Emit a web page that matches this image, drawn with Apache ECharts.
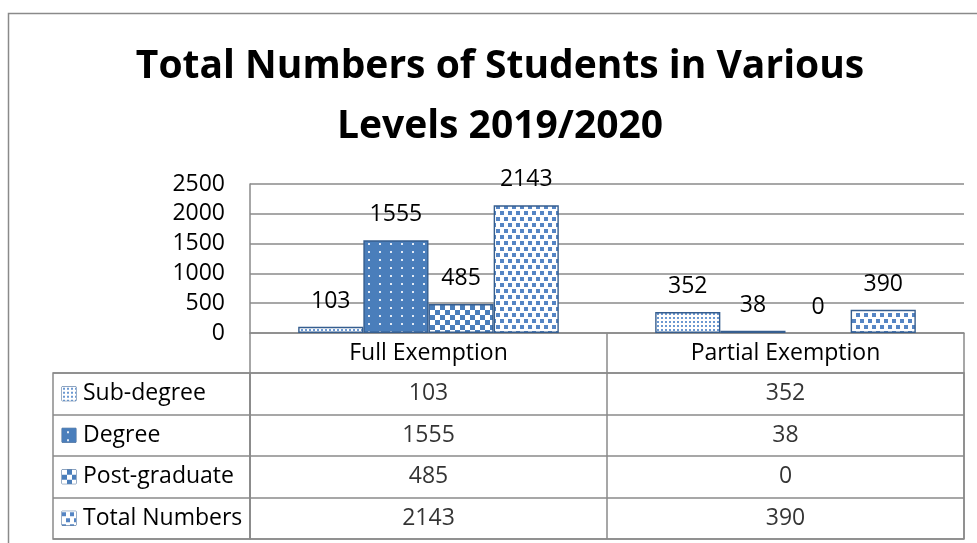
<!DOCTYPE html>
<html>
<head>
<meta charset="utf-8">
<script src="https://cdn.jsdelivr.net/npm/echarts@6/dist/echarts.min.js"></script>
<style>
  html, body { margin: 0; padding: 0; background: #fff; }
  #main { width: 977px; height: 543px; }
</style>
</head>
<body>
<div id="main"></div>
<script>
// data
const categories = ["Full Exemption", "Partial Exemption"];
const levels = ["Sub-degree", "Degree", "Post-graduate", "Total Numbers"];
const subDegree = [103, 352];
const degree = [1555, 38];
const postGraduate = [485, 0];
const totalNumbers = [2143, 390];
const yTicks = [0, 500, 1000, 1500, 2000, 2500];

const seriesValues = [subDegree, degree, postGraduate, totalNumbers];
const gray = "#8a8a8a";
const font = "Open Sans";

// small fill tiles, like the excel pattern fills
function makeTile(w, h, bg, fg, rects) {
  const c = document.createElement("canvas");
  c.width = w;
  c.height = h;
  const ctx = c.getContext("2d");
  ctx.fillStyle = bg;
  ctx.fillRect(0, 0, w, h);
  ctx.fillStyle = fg;
  rects.forEach((r) => ctx.fillRect(r[0], r[1], r[2], r[3]));
  return c;
}
const tiles = [
  makeTile(4, 4, "#ffffff", "#6b98d1", [[1, 1, 2, 2]]),
  makeTile(11, 8, "#4a7ebb", "#e3ebf6", [[5, 3, 2, 2]]),
  makeTile(10, 10, "#4a7ebb", "#ffffff", [[0, 0, 5, 5], [5, 5, 5, 5]]),
  makeTile(8, 12, "#ffffff", "#5585c4", [[0, 1, 4, 4], [4, 7, 4, 4]]),
];
// legend keys for the table
function makeIcon(tile) {
  const c = document.createElement("canvas");
  c.width = 14;
  c.height = 14;
  const ctx = c.getContext("2d");
  ctx.fillStyle = ctx.createPattern(tile, "repeat");
  ctx.fillRect(0, 0, 14, 14);
  return c;
}
const icons = tiles.map(makeIcon);

const myChart = echarts.init(document.getElementById("main"));

const barSeries = levels.map((name, i) => ({
  name: name,
  type: "bar",
  xAxisIndex: 0,
  yAxisIndex: 0,
  // a zero bar has no outline in the original
  data: seriesValues[i].map((v) =>
    v === 0 ? { value: v, itemStyle: { borderWidth: 0 } } : v
  ),
  barGap: "0%",
  barCategoryGap: "27%",
  itemStyle: {
    color: { image: tiles[i], repeat: "repeat" },
    borderColor: "#365e8f",
    borderWidth: 1.4,
  },
  label: {
    show: true,
    position: "top",
    distance: 14,
    color: "#000",
    fontSize: 23,
    fontFamily: font,
  },
}));

// table cells
const cellData = [];
levels.forEach((lv, r) => {
  categories.forEach((cat, k) => {
    cellData.push([cat, lv, seriesValues[r][k]]);
  });
});

const rich = {
  t: { color: "#000", fontSize: 23, fontFamily: font, padding: [0, 0, 0, 7] },
};
icons.forEach((ic, i) => {
  rich["i" + i] = {
    width: 14,
    height: 14,
    backgroundColor: { image: ic },
    borderColor: "#365e8f",
    borderWidth: 1,
  };
});

const option = {
  animation: false,
  graphic: [
    {
      type: "rect",
      shape: { x: 8.5, y: 13.5, width: 1000, height: 600 },
      style: { fill: null, stroke: gray, lineWidth: 1.5 },
      silent: true,
    },
    {
      type: "text",
      style: {
        x: 500,
        y: 97,
        text: "Total Numbers of Students in Various\nLevels 2019/2020",
        textAlign: "center",
        textVerticalAlign: "middle",
        fontFamily: font,
        fontWeight: "bold",
        fontSize: 39,
        lineHeight: 60,
        fill: "#000",
      },
    },
  ],
  grid: [
    { left: 250, right: 13, top: 184, height: 149, outerBoundsMode: "none" },
    {
      left: 250, right: 13, top: 373, height: 166, outerBoundsMode: "none",
      show: true, borderColor: gray, borderWidth: 1.5,
    },
    {
      left: 53, width: 197, top: 373, height: 166, outerBoundsMode: "none",
      show: true, borderColor: gray, borderWidth: 1.5,
    },
  ],
  xAxis: [
    {
      gridIndex: 0,
      type: "category",
      data: categories,
      axisLine: { lineStyle: { color: gray, width: 1.5 } },
      axisTick: { show: true, interval: 0, length: 40, lineStyle: { color: gray, width: 1.5 } },
      axisLabel: { margin: 9, color: "#000", fontSize: 23, fontFamily: font, interval: 0 },
    },
    {
      gridIndex: 1,
      type: "category",
      data: categories,
      axisLine: { show: false },
      axisTick: { show: false },
      axisLabel: { show: false },
      splitLine: { show: true, interval: 0, lineStyle: { color: gray, width: 1.5 } },
    },
    {
      gridIndex: 2,
      type: "value",
      axisLine: { show: false },
      axisTick: { show: false },
      axisLabel: { show: false },
      splitLine: { show: false },
    },
  ],
  yAxis: [
    {
      gridIndex: 0,
      type: "value",
      min: yTicks[0],
      max: yTicks[yTicks.length - 1],
      interval: yTicks[1] - yTicks[0],
      axisLine: { show: true, lineStyle: { color: gray, width: 1.5 } },
      axisTick: { show: false },
      splitLine: { show: true, lineStyle: { color: gray, width: 1.5 } },
      axisLabel: {
        margin: 25,
        color: "#000",
        fontSize: 23,
        fontFamily: font,
        formatter: (v) => String(v),
      },
    },
    {
      gridIndex: 1,
      type: "category",
      data: levels,
      inverse: true,
      axisLine: { show: false },
      axisTick: { show: false },
      splitLine: { show: true, interval: 0, lineStyle: { color: gray, width: 1.5 } },
      axisLabel: {
        interval: 0,
        margin: 188,
        align: "left",
        formatter: (v, i) => "{i" + i + "|}{t|" + v + "}",
        rich: rich,
      },
    },
    {
      gridIndex: 2,
      type: "category",
      data: levels,
      inverse: true,
      axisLine: { show: false },
      axisTick: { show: false },
      axisLabel: { show: false },
      splitLine: { show: true, interval: 0, lineStyle: { color: gray, width: 1.5 } },
    },
  ],
  series: barSeries.concat([
    {
      type: "scatter",
      xAxisIndex: 1,
      yAxisIndex: 1,
      data: cellData,
      symbolSize: 0,
      silent: true,
      label: {
        show: true,
        position: "inside",
        formatter: (p) => String(p.value[2]),
        color: "#000",
        fontSize: 23,
        fontFamily: font,
      },
    },
  ]),
};

myChart.setOption(option);
window.addEventListener("resize", () => myChart.resize());
</script>
</body>
</html>
